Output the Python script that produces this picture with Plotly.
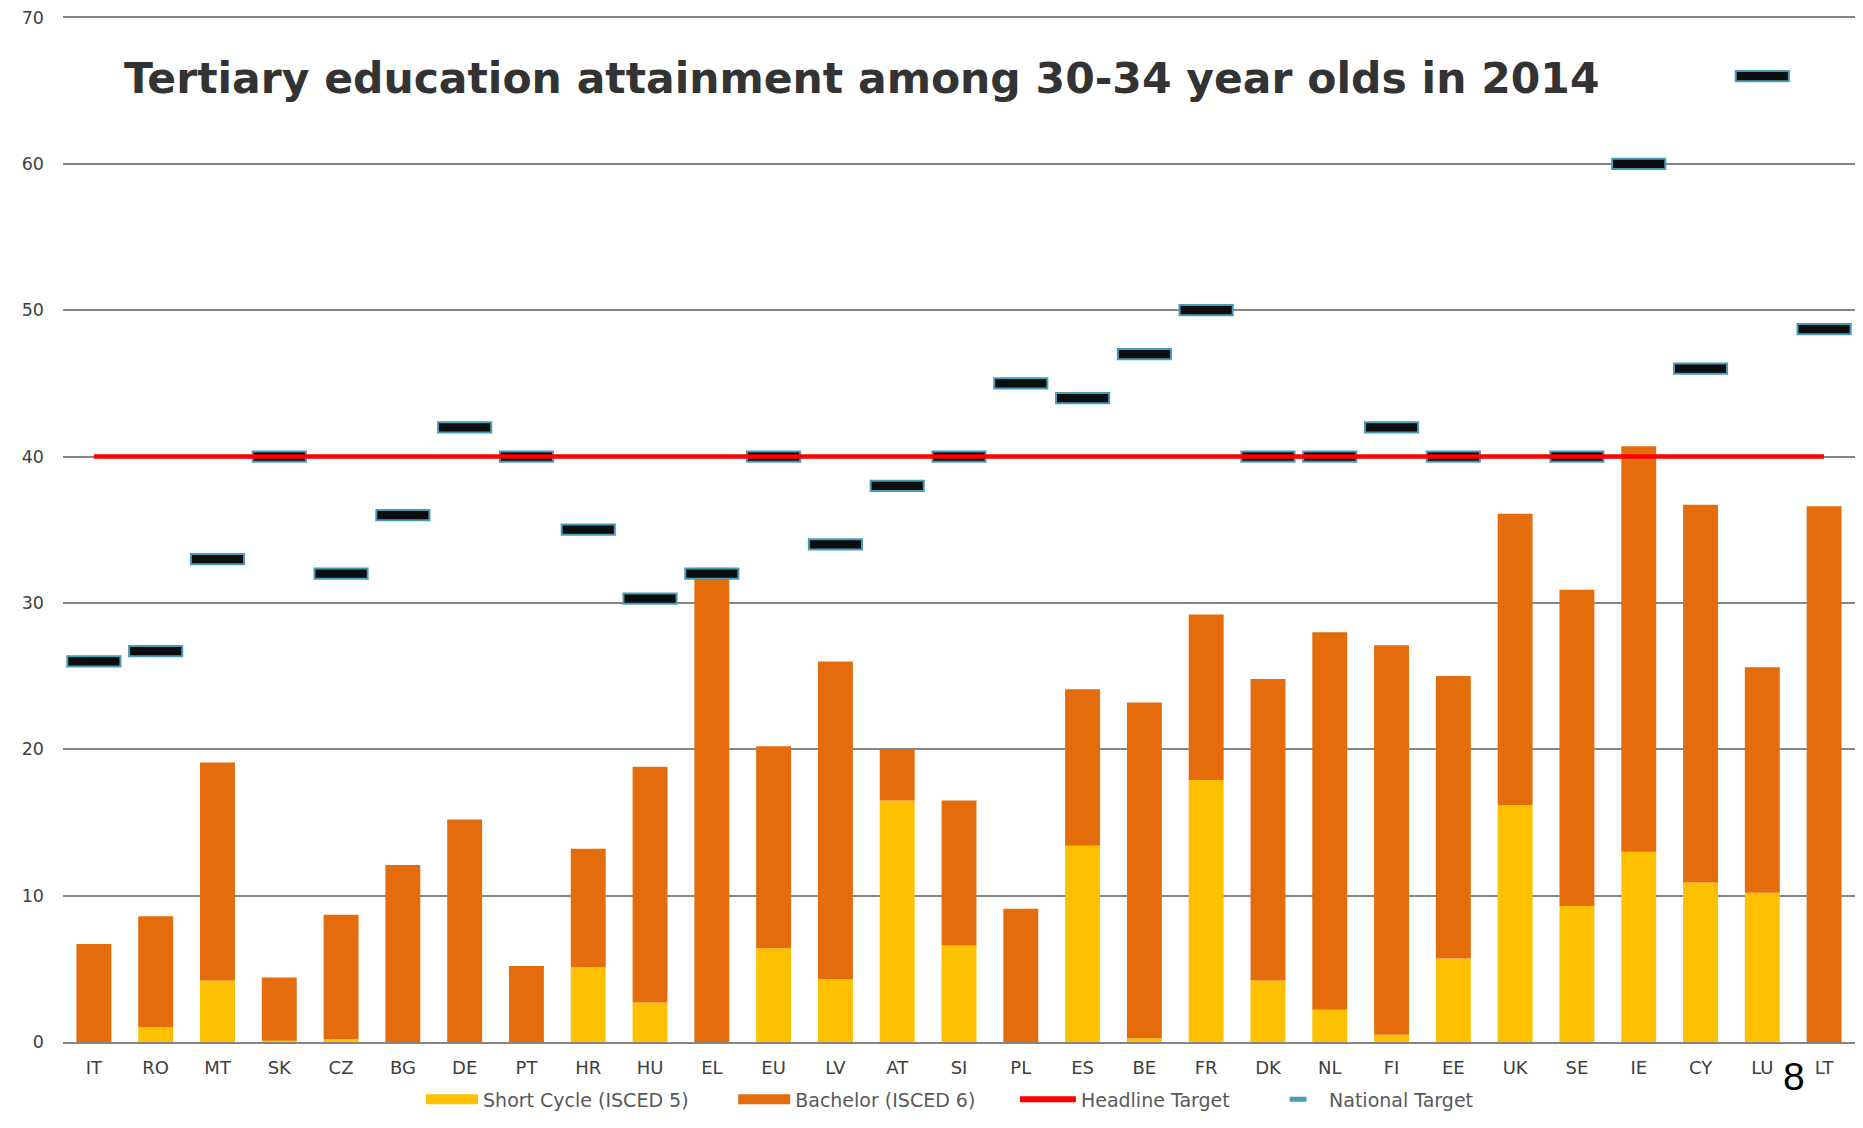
import plotly.graph_objects as go

countries = ["IT", "RO", "MT", "SK", "CZ", "BG", "DE", "PT", "HR", "HU", "EL", "EU", "LV", "AT",
             "SI", "PL", "ES", "BE", "FR", "DK", "NL", "FI", "EE", "UK", "SE", "IE", "CY", "LU", "LT"]
short_cycle = [0.0, 1.0, 4.2, 0.1, 0.2, 0.0, 0.0, 0.0, 5.1, 2.7, 0.0, 6.4, 4.3, 16.5,
               6.6, 0.0, 13.4, 0.25, 17.9, 4.2, 2.2, 0.5, 5.7, 16.2, 9.3, 13.0, 10.9, 10.2, 0.0]
total = [6.7, 8.6, 19.1, 4.4, 8.7, 12.1, 15.2, 5.2, 13.2, 18.8, 32.4, 20.2, 26.0, 20.0,
         16.5, 9.1, 24.1, 23.2, 29.2, 24.8, 28.0, 27.1, 25.0, 36.1, 30.9, 40.7, 36.7, 25.6, 36.6]
bachelor = [round(t - s, 2) for t, s in zip(total, short_cycle)]
national_target = [26, 26.7, 33, 40, 32, 36, 42, 40, 35, 30.3, 32, 40, 34, 38,
                   40, 45, 44, 47, 50, 40, 40, 42, 40, None, 40, 60, 46, 66, 48.7]
headline_target = [40] * len(countries)
y_ticks = [0, 10, 20, 30, 40, 50, 60, 70]

title_text = "Tertiary education attainment among 30-34 year olds in 2014"
page_number = "8"

YELLOW = "#FFC000"
ORANGE = "#E46C0A"
RED = "#FF0000"
TEAL = "#4A9BB5"
BLACK = "#0D0D0D"

marker_h = 0.7
nt_x = [c for c, v in zip(countries, national_target) if v is not None]
nt_base = [v - marker_h / 2 for v in national_target if v is not None]
nt_h = [marker_h] * len(nt_x)

fig = go.Figure()
fig.add_trace(go.Bar(x=countries, y=short_cycle, name="Short Cycle (ISCED 5)", showlegend=False,
                     marker=dict(color=YELLOW, line=dict(width=0)), width=0.565))
fig.add_trace(go.Bar(x=countries, y=bachelor, base=short_cycle, name="Bachelor (ISCED 6)",
                     showlegend=False, marker=dict(color=ORANGE, line=dict(width=0)), width=0.565))
fig.add_trace(go.Scatter(x=countries, y=headline_target, mode="lines", name="Headline Target",
                         showlegend=False, line=dict(color=RED, width=4.5)))
fig.add_trace(go.Bar(x=nt_x, y=nt_h, base=nt_base, name="National Target", showlegend=False,
                     marker=dict(color=BLACK, line=dict(color=TEAL, width=2)), width=0.86))

# legend entries (each in its own legend so positions can match the original)
fig.add_trace(go.Scatter(x=[None], y=[None], mode="lines", name="Short Cycle (ISCED 5)",
                         line=dict(color=YELLOW, width=10), legend="legend"))
fig.add_trace(go.Scatter(x=[None], y=[None], mode="lines", name="Bachelor (ISCED 6)",
                         line=dict(color=ORANGE, width=10), legend="legend2"))
fig.add_trace(go.Scatter(x=[None], y=[None], mode="lines", name="Headline Target",
                         line=dict(color=RED, width=6), legend="legend3"))
fig.add_trace(go.Scatter(x=[None], y=[None], mode="markers", name="National Target",
                         marker=dict(symbol="line-ew", color=TEAL, size=12,
                                     line=dict(color=TEAL, width=5)), legend="legend4"))

legend_font = dict(family="DejaVu Sans", size=19, color="#595959")
leg_y = -0.0745


def leg(x, w):
    return dict(orientation="h", x=x, xanchor="left", y=leg_y, yanchor="bottom",
                font=legend_font, itemwidth=w, bgcolor="rgba(0,0,0,0)")


# the page body adds an 8px margin around the figure, so the figure is 16px smaller
fig.update_layout(
    width=1847, height=1112,
    margin=dict(l=55, r=0, t=7.5, b=78, autoexpand=False),
    paper_bgcolor="white", plot_bgcolor="white",
    barmode="overlay",
    font=dict(family="DejaVu Sans", color="#404040", size=16),
    showlegend=True,
    legend=leg(0.1998, 52),
    legend2=leg(0.3740, 52),
    legend3=leg(0.5312, 56),
    legend4=leg(0.6719, 52),
    annotations=[
        dict(text="<b>" + title_text + "</b>", xref="paper", yref="paper",
             x=0.0329, y=0.9395, xanchor="left", yanchor="middle", showarrow=False,
             font=dict(family="DejaVu Sans", size=42.5, color="#333333")),
        dict(text=page_number, xref="paper", yref="paper", x=0.966, y=-0.034,
             xanchor="center", yanchor="middle", showarrow=False,
             font=dict(family="Liberation Sans", size=39, color="black")),
    ],
)
fig.update_xaxes(showgrid=False, showline=True, linecolor="#868686", linewidth=2,
                 ticks="", tickfont=dict(size=18, color="#404040"),
                 range=[-0.5, len(countries) - 0.5], ticklabelstandoff=8)
fig.update_yaxes(range=[0, 70.1], tickvals=y_ticks, showgrid=True, gridcolor="#868686",
                 gridwidth=1.5, zeroline=False, showline=False, ticks="",
                 tickfont=dict(size=17.5, color="#404040"), ticklabelstandoff=18,
                 ticklabeloverflow="allow")

fig.write_html("out.html")
